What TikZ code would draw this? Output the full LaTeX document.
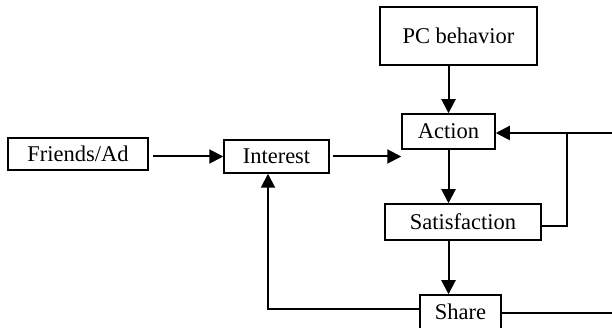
\documentclass[tikz,border=0pt]{standalone}
\usepackage{fontspec}
\setmainfont{Liberation Serif}
\usetikzlibrary{arrows.meta,calc}
\begin{document}
\begin{tikzpicture}[x=1pt,y=1pt,
  box/.style={draw,line width=1.5pt,inner sep=0pt,font=\fontsize{22.5}{24}\selectfont},
  arr/.style={line width=2pt,-{Triangle[length=14pt,width=14pt]}},
  ln/.style={line width=2pt}]
\useasboundingbox (0,0) rectangle (612,328);
\node[box,minimum width=157pt,minimum height=58pt] (pc) at (458.5,292) {PC behavior};
\node[box,minimum width=93pt,minimum height=35pt] (act) at (448.5,196.5) {Action};
\node[box,minimum width=140pt,minimum height=32pt] (fr) at (78,174) {Friends/Ad};
\node[box,minimum width=105pt,minimum height=33pt] (int) at (276.5,171.5) {Interest};
\node[box,minimum width=156pt,minimum height=36pt] (sat) at (463,106) {Satisfaction};
\node[box,minimum width=81pt,minimum height=34pt] (sh) at (460.5,16) {Share};
\coordinate (ia) at ($(act.south west)+(0,-8)$);
\coordinate (up) at ($(int.south)+(-8.5,0)$);
\coordinate (r1) at (612,195);
\coordinate (r2) at (612,15);
\coordinate (vx) at (567,195);
\draw[arr] (pc.south -| act.north) -- (act.north);
\draw[arr] (act.south) -- (act.south |- sat.north);
\draw[arr] (sat.south -| act.south) -- (sh.north -| act.south);
\draw[arr] ($(fr.east |- int.west)+(4,0)$) -- (int.west);
\draw[arr] ($(int.east)+(3,0)$) -- (int.east -| ia);
\draw[arr] (sh.west |- 0,19) -- (up |- 0,19) -- (up);
\draw[arr] (r1) -- (act.east |- r1);
\draw[ln] (vx) -- (vx |- 0,102) -- (sat.east |- 0,102);
\draw[ln] (sh.east |- r2) -- (r2);
\end{tikzpicture}
\end{document}
